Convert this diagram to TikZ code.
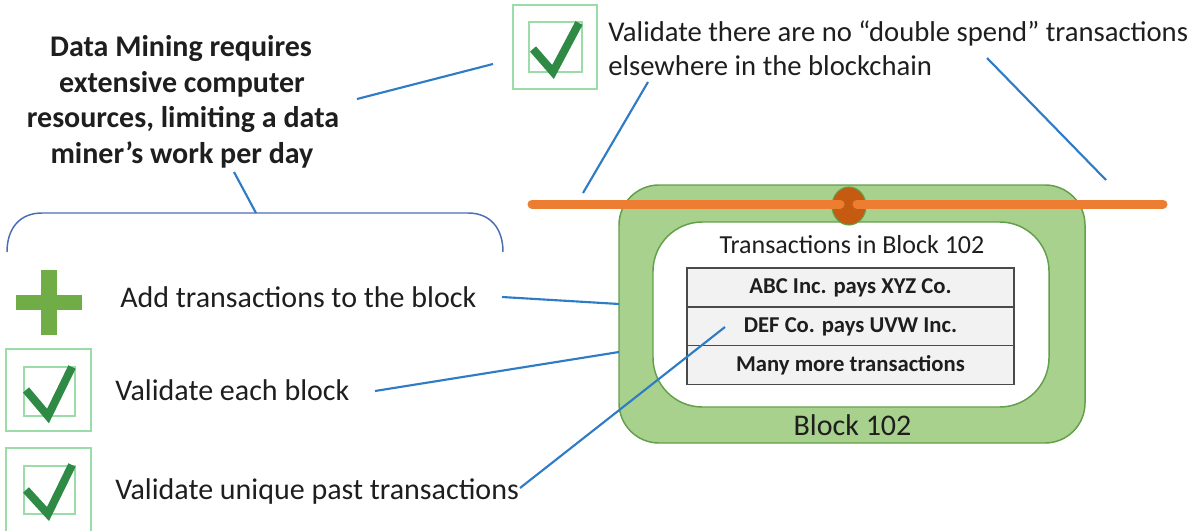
\documentclass[tikz,border=0pt]{standalone}
\usepackage{fontspec}
\setmainfont{Carlito}
\usetikzlibrary{shapes.geometric}
\definecolor{connblue}{HTML}{2E7BC6}
\definecolor{bracecol}{HTML}{4A6DB8}
\definecolor{chainorange}{HTML}{ED7D31}
\definecolor{knotorange}{HTML}{C55A11}
\definecolor{blockfill}{HTML}{A9D18E}
\definecolor{blockedge}{HTML}{62A04A}
\definecolor{rowfill}{HTML}{F2F2F2}
\definecolor{rowedge}{HTML}{4A4A4A}
\definecolor{plusgreen}{HTML}{70AD47}
\definecolor{checkgreen}{HTML}{2F8A46}
\definecolor{boxgreen}{HTML}{9ADDA8}
\definecolor{txt}{HTML}{1E1E1E}
\begin{document}
\begin{tikzpicture}[x=0.75pt,y=-0.75pt,
  conn/.style={draw=connblue,line width=1.6pt},
  lbl/.style={inner sep=0pt,anchor=base west,text=txt,font=\fontsize{22.5}{27}\selectfont},
  toplbl/.style={inner sep=0pt,anchor=base west,text=txt,font=\fontsize{21.5}{26}\selectfont},
  ttl/.style={inner sep=0pt,anchor=base,text=txt,font=\bfseries\fontsize{22.5}{27}\selectfont},
  rowbox/.style={draw=rowedge,line width=1.1pt,fill=rowfill,minimum width=245.25pt,minimum height=29pt,inner sep=0pt,text=txt,font=\bfseries\fontsize{17}{20}\selectfont},
  chkbox/.style={draw=boxgreen,line width=0.9pt},
  chkmark/.style={draw=checkgreen,line width=6pt,miter limit=10}
]
\useasboundingbox (0,0) rectangle (1191,531);

% ---- title ----
\node[ttl] (t1) at (181,57) {Data Mining requires};
\node[ttl] (t2) at (182,93) {extensive computer};
\node[ttl] (t3) at (183,128) {resources, limiting a data};
\node[ttl] (t4) at (182,163) {miner’s work per day};

% ---- top check box ----
\draw[chkbox] (513,5) rectangle (597,89);
\draw[chkbox] (529,22) rectangle (582,72);
\draw[chkmark] (533,49) -- (553,72) -- (579,23);
\coordinate (topchk) at (493,64);

\node[toplbl] (topA) at (608,42) {Validate there are no “double spend” transactions};
\node[toplbl] (topB) at (608,76) {elsewhere in the blockchain};

% ---- brace ----
\coordinate (bracetop) at (256,213);
\draw[draw=bracecol,line width=1.1pt] (7,252) .. controls (7,228) and (20,213) .. (42,213) -- (468,213) .. controls (490,213) and (503,228) .. (503,252);

% ---- block ----
\draw[draw=blockedge,fill=blockfill,line width=1.1pt,rounded corners=30pt] (619,185) rectangle (1085,443);
\draw[draw=blockedge,fill=white,line width=1.1pt,rounded corners=37pt] (653,222) rectangle (1049,407);
\node[inner sep=0pt,anchor=base,text=txt,font=\fontsize{19.5}{23}\selectfont] (ttitle) at (852,253) {Transactions in Block 102};
\node[rowbox] (r1) at (850.5,287.5) {ABC Inc. pays XYZ Co.};
\node[rowbox] (r2) at (850.5,326.5) {DEF Co. pays UVW Inc.};
\node[rowbox] (r3) at (850.5,365) {Many more transactions};
\node[inner sep=0pt,anchor=base,text=txt,font=\fontsize{22.5}{27}\selectfont] (blk) at (852.5,435) {Block 102};

% ---- chain ----
\node[ellipse,draw=blockedge,fill=knotorange,line width=0.8pt,minimum width=25.5pt,minimum height=28.5pt,inner sep=0pt] (knot) at (849,206) {};
\draw[draw=chainorange,line width=6.75pt,line cap=round] (532,204) -- (840,204);
\draw[draw=chainorange,line width=6.75pt,line cap=round] (857,204) -- (1163,204);
\coordinate (chainL) at (583,193);
\coordinate (chainR) at (1106,180);

% ---- left items ----
\fill[plusgreen] (41,270) rectangle (57,335);
\fill[plusgreen] (16,295) rectangle (82,310);
\node[lbl] (add) at (120,307) {Add transactions to the block};

\draw[chkbox] (6,349) rectangle (91,431);
\draw[chkbox] (24,367) rectangle (75,416);
\draw[chkmark] (26,390) -- (48,416) -- (72,367);
\node[lbl] (vblock) at (115,400) {Validate each block};

\draw[chkbox] (6,448) rectangle (91,534);
\draw[chkbox] (24,466) rectangle (75,514);
\draw[chkmark] (26,490) -- (48,514) -- (72,465);
\node[lbl] (vpast) at (115,499) {Validate unique past transactions};

% ---- connector end points ----
\coordinate (titleR) at (357,99);
\coordinate (titleB) at (234,172);
\coordinate (topTxtL) at (648,82);
\coordinate (topTxtR) at (987,58);
\coordinate (addR) at (502,297);
\coordinate (blkL1) at (619,304);
\coordinate (vblockR) at (375,391);
\coordinate (blkL2) at (619,352);
\coordinate (vpastR) at (520,488);
\coordinate (rowpt) at (725,327);

% ---- connectors ----
\draw[conn] (titleR) -- (topchk);
\draw[conn] (titleB) -- (bracetop);
\draw[conn] (topTxtL) -- (chainL);
\draw[conn] (topTxtR) -- (chainR);
\draw[conn] (addR) -- (blkL1);
\draw[conn] (vblockR) -- (blkL2);
\draw[conn] (vpastR) -- (rowpt);
\end{tikzpicture}
\end{document}
